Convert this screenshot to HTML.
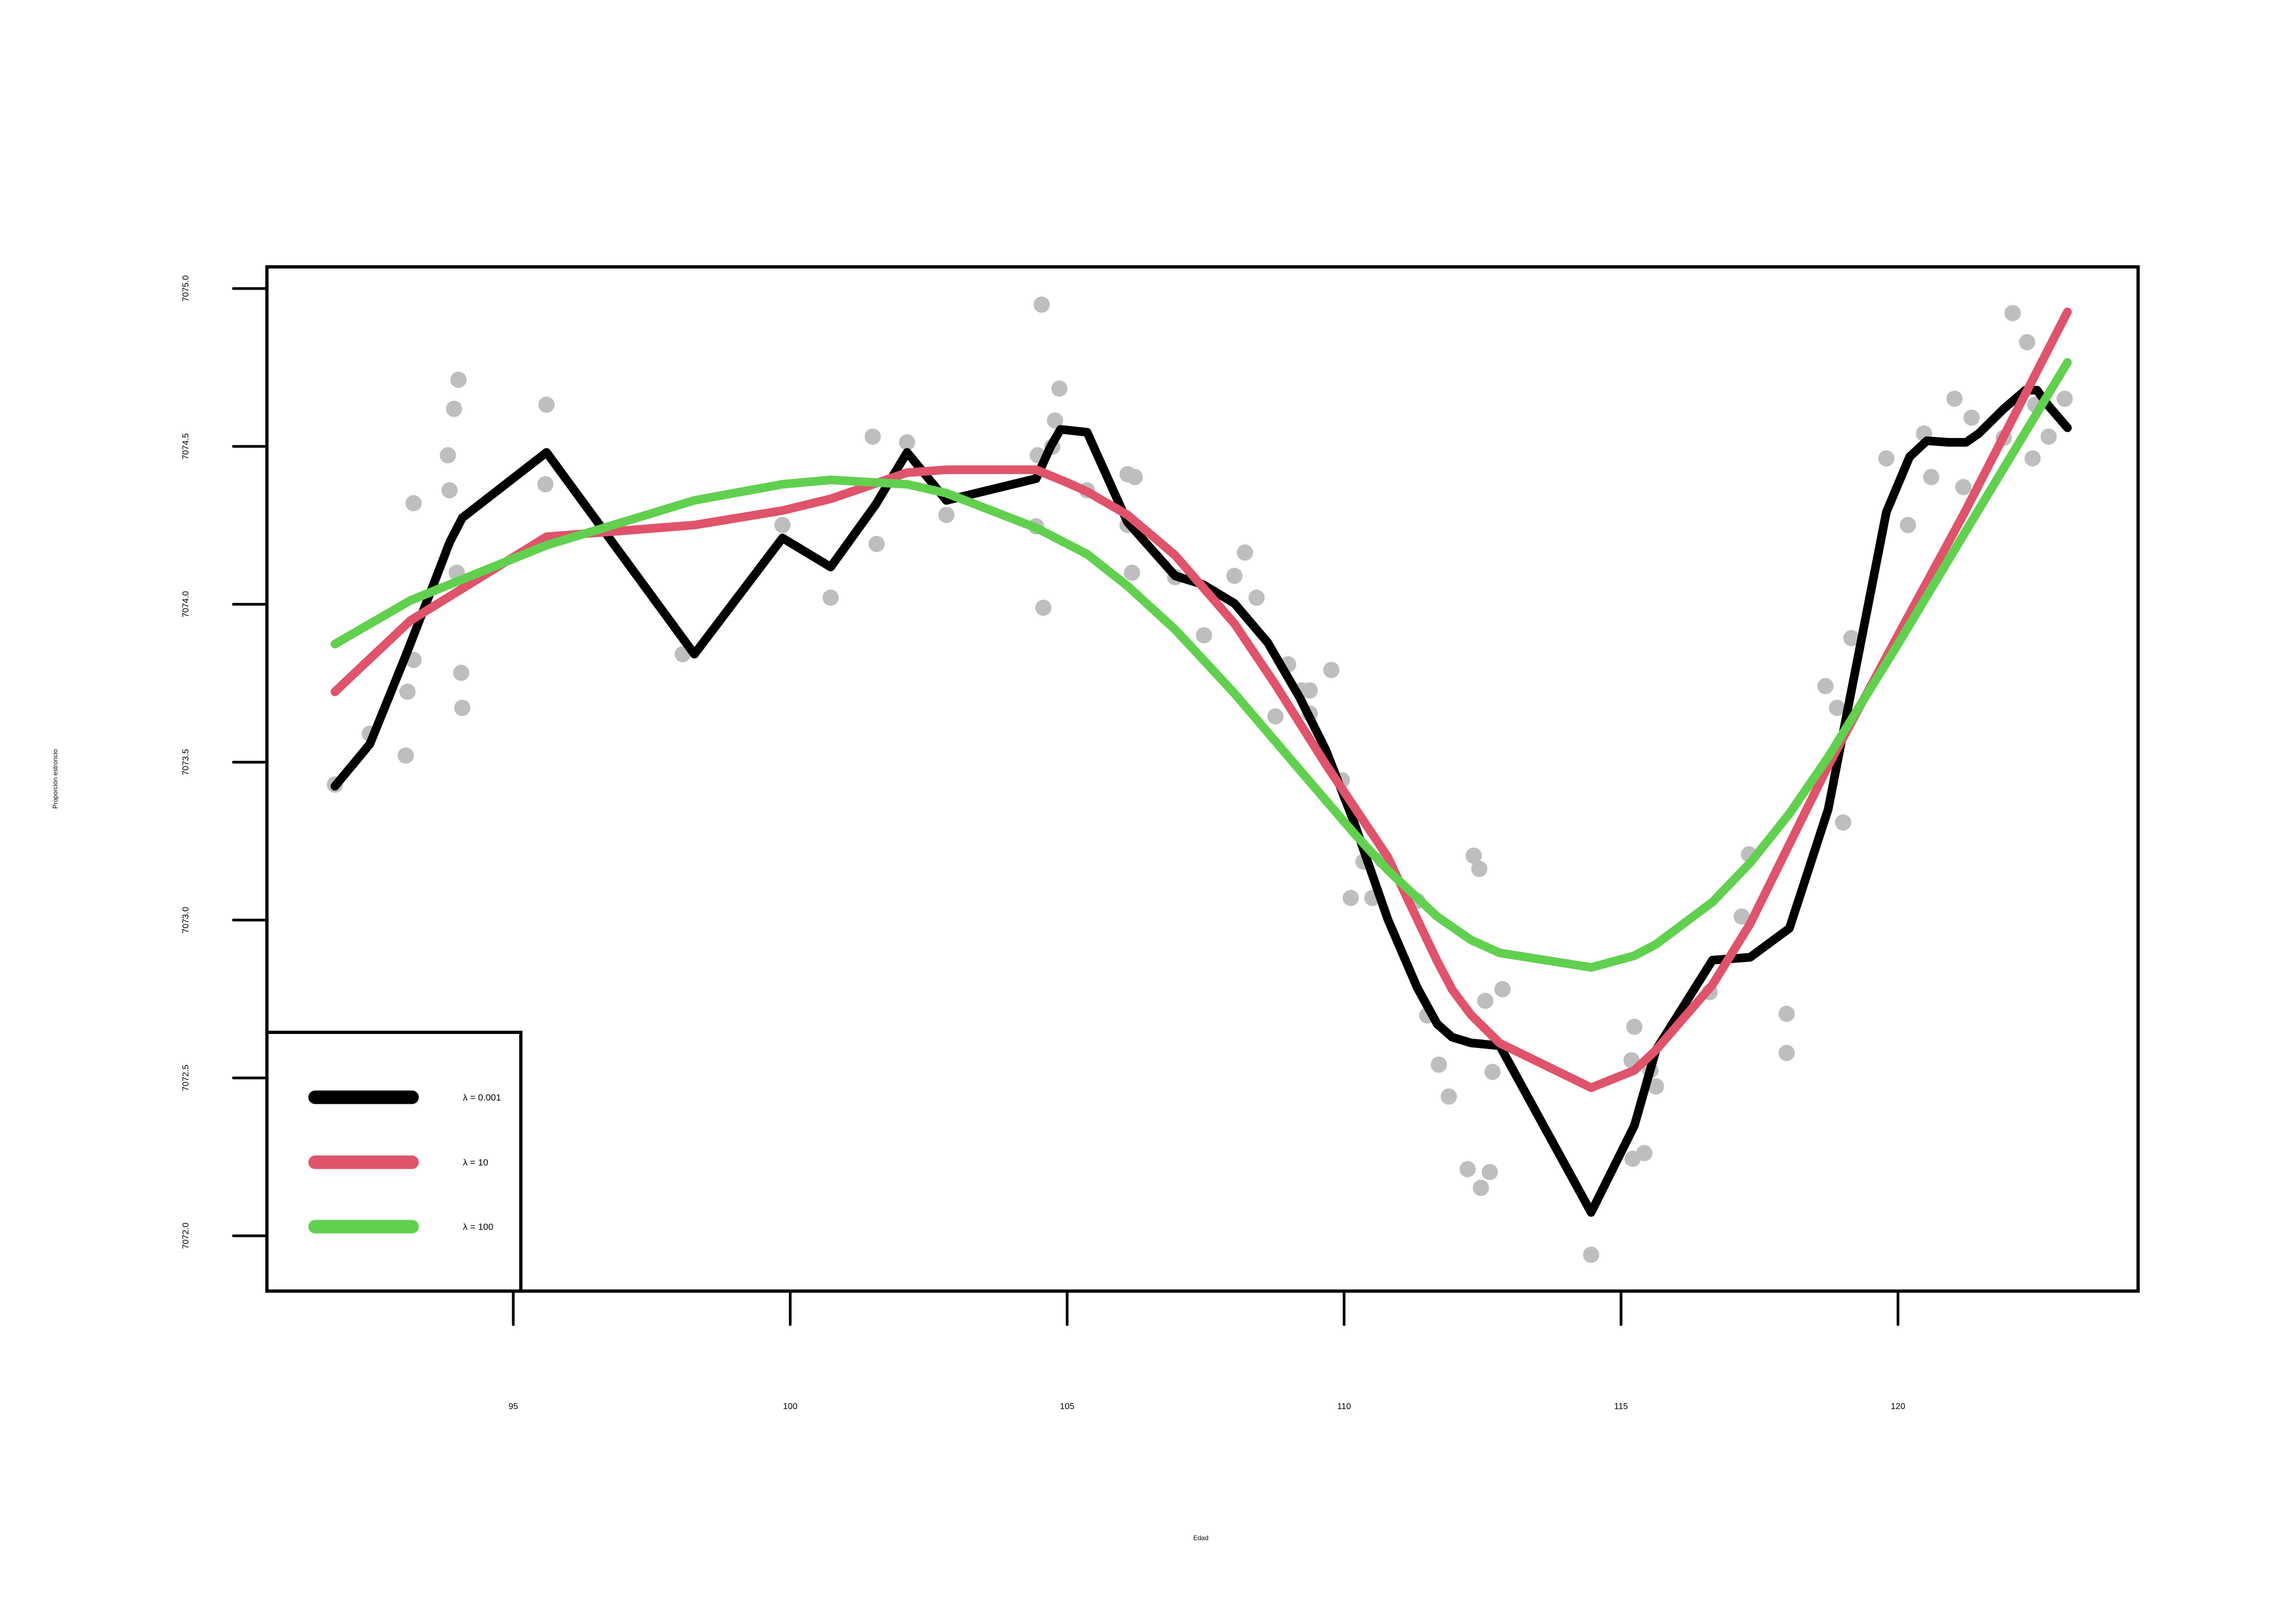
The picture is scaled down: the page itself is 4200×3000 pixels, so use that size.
<!DOCTYPE html>
<html><head><meta charset="utf-8"><style>
html,body{margin:0;padding:0;background:#fff}
svg{display:block}
text{font-family:"Liberation Sans",sans-serif;fill:#000}
</style></head><body>
<svg id="chart" width="4200" height="3000" viewBox="0 0 4200 3000" xmlns="http://www.w3.org/2000/svg">
<rect x="0" y="0" width="4200" height="3000" fill="#fff"/>
<g id="points"></g>
<g id="lines"></g>
<rect x="493" y="493" width="3456" height="1892" fill="none" stroke="#000" stroke-width="6"/>
<g id="xaxis"></g>
<g id="yaxis"></g>
<text x="2218" y="2845" font-size="12" text-anchor="middle">Edad</text>
<text x="0" y="0" font-size="12" text-anchor="middle" transform="translate(106,1439) rotate(-90)">Proporción estroncio</text>
<g>
<rect x="493" y="1907" width="469" height="478" fill="#fff" stroke="#000" stroke-width="6"/>
<line x1="582" y1="2027" x2="761" y2="2027" stroke="#000" stroke-width="25" stroke-linecap="round"/>
<text x="855" y="2033" font-size="17">λ = 0.001</text>
<line x1="582" y1="2147" x2="761" y2="2147" stroke="#DF536B" stroke-width="25" stroke-linecap="round"/>
<text x="855" y="2153" font-size="17">λ = 10</text>
<line x1="582" y1="2266" x2="761" y2="2266" stroke="#61D04F" stroke-width="25" stroke-linecap="round"/>
<text x="855" y="2272" font-size="17">λ = 100</text>
</g>
</svg>
<script>
const xTicks = [95, 100, 105, 110, 115, 120];
const yTicks = [7072.0, 7072.5, 7073.0, 7073.5, 7074.0, 7074.5, 7075.0];
const yTickLabels = ["7072.0","7072.5","7073.0","7073.5","7074.0","7074.5","7075.0"];
const pointX = [91.78,92.41,93.06,93.09,93.20,93.20,93.82,93.85,93.93,94.01,93.98,94.06,94.08,95.60,95.58,98.06,99.86,100.73,101.49,101.56,102.11,102.82,104.54,104.47,104.44,104.57,104.78,104.86,104.73,105.36,106.09,106.22,106.17,106.09,106.95,107.47,108.02,108.21,108.42,108.76,108.99,109.23,109.38,109.38,109.77,109.96,110.12,110.35,110.51,110.69,111.32,111.50,111.71,111.89,112.23,112.34,112.44,112.47,112.55,112.63,112.68,112.86,114.46,115.21,115.24,115.19,115.42,115.63,115.53,116.60,117.18,117.31,117.99,117.99,118.69,118.90,119.01,119.16,119.79,120.18,120.47,120.60,121.02,121.18,121.33,121.91,122.07,122.33,122.43,122.48,122.72,123.01];
const pointY = [7073.429,7073.590,7073.521,7073.723,7073.824,7074.320,7074.472,7074.361,7074.619,7074.711,7074.100,7073.783,7073.672,7074.632,7074.380,7073.842,7074.251,7074.021,7074.531,7074.191,7074.513,7074.283,7074.949,7074.472,7074.247,7073.989,7074.582,7074.683,7074.499,7074.361,7074.412,7074.403,7074.100,7074.251,7074.086,7073.902,7074.090,7074.164,7074.021,7073.645,7073.810,7073.727,7073.727,7073.654,7073.792,7073.443,7073.070,7073.185,7073.070,7073.190,7073.061,7072.698,7072.542,7072.441,7072.211,7073.204,7073.162,7072.152,7072.744,7072.202,7072.519,7072.781,7071.940,7072.244,7072.662,7072.556,7072.262,7072.473,7072.524,7072.772,7073.011,7073.208,7072.703,7072.579,7073.741,7073.672,7073.309,7073.893,7074.462,7074.251,7074.541,7074.403,7074.651,7074.371,7074.591,7074.527,7074.922,7074.830,7074.462,7074.632,7074.531,7074.651];
const blackX = [91.78,92.41,93.06,93.59,93.85,94.08,95.60,98.27,99.86,100.73,101.54,102.11,102.82,104.44,104.70,104.88,105.36,106.09,106.95,107.45,108.02,108.62,109.20,109.67,110.17,110.79,111.32,111.68,111.95,112.29,112.81,114.46,115.24,115.63,116.65,117.33,118.04,118.74,119.79,120.21,120.52,120.92,121.23,121.46,121.91,122.30,122.51,122.72,123.06];
const blackY = [7073.424,7073.557,7073.838,7074.077,7074.196,7074.274,7074.481,7073.842,7074.210,7074.118,7074.315,7074.481,7074.329,7074.398,7074.499,7074.554,7074.545,7074.260,7074.090,7074.063,7074.003,7073.879,7073.704,7073.539,7073.314,7073.002,7072.786,7072.671,7072.629,7072.611,7072.602,7072.074,7072.349,7072.588,7072.873,7072.882,7072.974,7073.351,7074.292,7074.467,7074.518,7074.513,7074.513,7074.541,7074.619,7074.678,7074.678,7074.628,7074.559];
const redX = [91.78,93.14,95.60,98.27,99.86,100.73,102.11,102.82,104.44,105.02,105.36,106.09,106.95,108.02,108.76,109.67,110.79,111.11,111.68,111.95,112.29,112.81,114.46,115.24,115.63,116.65,117.33,118.74,120.00,121.18,123.06];
const redY = [7073.723,7073.948,7074.214,7074.251,7074.297,7074.334,7074.417,7074.426,7074.426,7074.384,7074.357,7074.283,7074.155,7073.939,7073.746,7073.493,7073.199,7073.080,7072.870,7072.780,7072.700,7072.610,7072.469,7072.524,7072.588,7072.795,7072.988,7073.489,7073.902,7074.283,7074.926];
const greenX = [91.78,93.14,95.60,98.27,99.86,100.73,102.11,102.82,104.44,105.36,106.09,106.95,108.02,109.20,110.19,110.79,111.68,112.29,112.81,114.46,115.24,115.63,116.65,117.33,118.04,118.74,120.00,121.18,123.06];
const greenY = [7073.874,7074.012,7074.187,7074.329,7074.380,7074.394,7074.380,7074.352,7074.242,7074.159,7074.058,7073.920,7073.718,7073.475,7073.273,7073.158,7073.011,7072.937,7072.896,7072.850,7072.887,7072.923,7073.057,7073.181,7073.337,7073.516,7073.874,7074.219,7074.766];

const NS = "http://www.w3.org/2000/svg";
function sx(v){ return 948 + (v - 95) * 102.3; }
function sy(v){ return 533 + (7075 - v) * 583.3; }
function mk(tag, attrs){ const e = document.createElementNS(NS, tag); for (const k in attrs) e.setAttribute(k, attrs[k]); return e; }

const gp = document.getElementById('points');
for (let i = 0; i < pointX.length; i++) {
  const c = mk('circle', {cx: sx(pointX[i]), cy: sy(pointY[i]), r: 15, fill: '#bebebe'});
  
  
  gp.appendChild(c);
}
const gl = document.getElementById('lines');
function drawLine(xs, ys, color, name){
  const d = xs.map((x, i) => (i ? 'L' : 'M') + sx(x).toFixed(1) + ' ' + sy(ys[i]).toFixed(1)).join(' ');
  const p = mk('path', {d: d, fill: 'none', stroke: color, 'stroke-width': 16, 'stroke-linecap': 'round', 'stroke-linejoin': 'round'});
  
  
  gl.appendChild(p);
}
drawLine(blackX, blackY, '#000', 'line-lambda-0.001');
drawLine(redX, redY, '#DF536B', 'line-lambda-10');
drawLine(greenX, greenY, '#61D04F', 'line-lambda-100');

const gx = document.getElementById('xaxis');
xTicks.forEach(t => {
  const l = mk('line', {x1: sx(t), y1: 2388, x2: sx(t), y2: 2447, stroke: '#000', 'stroke-width': 5, 'stroke-linecap': 'round'});
  
  
  gx.appendChild(l);
  const tx = mk('text', {x: sx(t), y: 2603, 'font-size': 16, 'text-anchor': 'middle'});
  
  
  tx.textContent = String(t);
  gx.appendChild(tx);
});
const gy = document.getElementById('yaxis');
yTicks.forEach((t, i) => {
  const l = mk('line', {x1: 431, y1: sy(t), x2: 493, y2: sy(t), stroke: '#000', 'stroke-width': 5, 'stroke-linecap': 'round'});
  
  
  gy.appendChild(l);
  const tx = mk('text', {x: 0, y: 0, 'font-size': 16, 'text-anchor': 'middle', transform: 'translate(348,' + sy(t) + ') rotate(-90)'});
  
  
  tx.textContent = yTickLabels[i];
  gy.appendChild(tx);
});
</script>
</body></html>
